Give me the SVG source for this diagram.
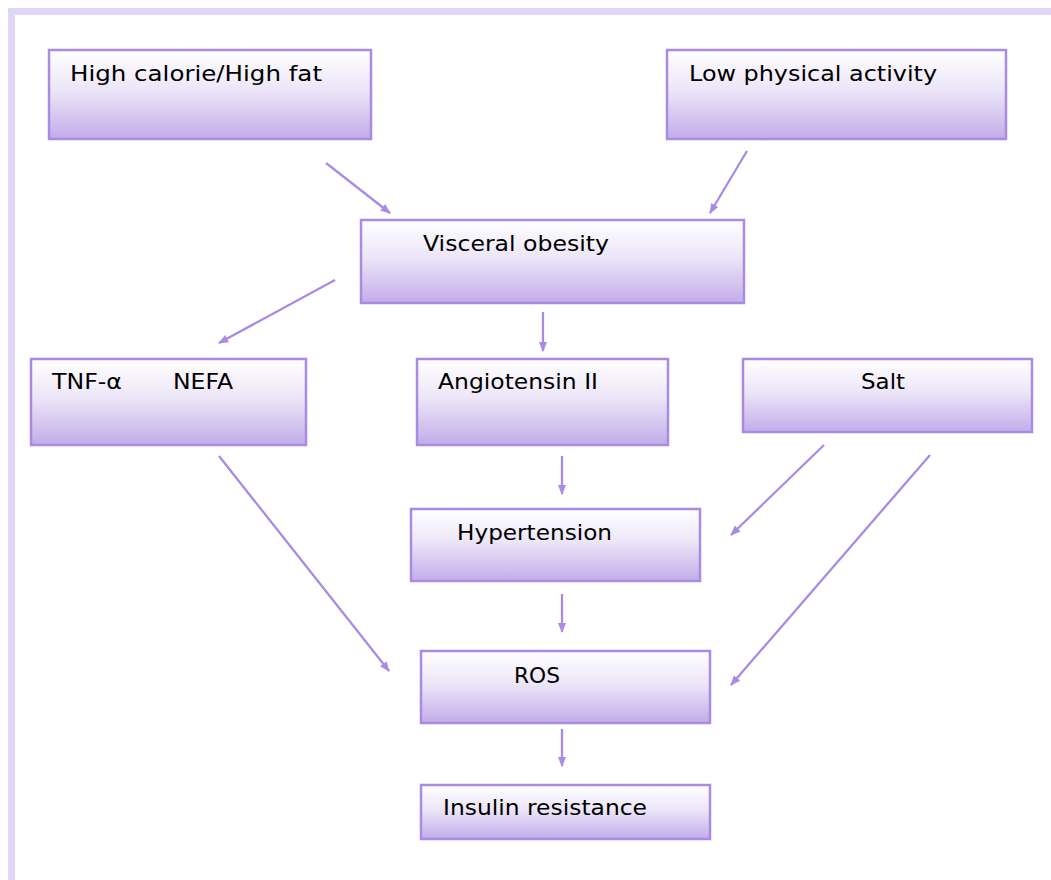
<svg xmlns="http://www.w3.org/2000/svg" width="1051" height="880" viewBox="0 0 1051 880">
<defs>
<linearGradient id="g" x1="0" y1="0" x2="0" y2="1">
<stop offset="0" stop-color="#ffffff"/>
<stop offset="0.45" stop-color="#ece6f8"/>
<stop offset="1" stop-color="#c2ace9"/>
</linearGradient>
<marker id="ah" viewBox="0 0 10 10" refX="9" refY="5" markerWidth="4.5" markerHeight="4.5" orient="auto" markerUnits="strokeWidth">
<path d="M0,1 L10,5 L0,9 z" fill="#a98be3"/>
</marker>
</defs>
<style>
.box{fill:url(#g);stroke:#a98be3;stroke-width:2.5}
.t{font-family:"DejaVu Sans","Liberation Sans",sans-serif;font-size:22px;fill:#000}
.c line{stroke:#a98be3;stroke-width:2.3;marker-end:url(#ah)}
</style>
<rect x="0" y="0" width="1051" height="880" fill="#fff"/>
<rect x="8" y="8" width="1043" height="7" fill="#e0d7f6"/>
<rect x="8" y="8" width="7" height="872" fill="#e0d7f6"/>
<g id="n1"><rect class="box" x="49" y="50" width="322" height="89"/><text class="t" x="70" y="81" textLength="252" lengthAdjust="spacingAndGlyphs">High calorie/High fat</text></g>
<g id="n2"><rect class="box" x="667" y="50" width="339" height="89"/><text class="t" x="689" y="81" textLength="248" lengthAdjust="spacingAndGlyphs">Low physical activity</text></g>
<g id="n3"><rect class="box" x="361" y="220" width="383" height="83"/><text class="t" x="423" y="251" textLength="186" lengthAdjust="spacingAndGlyphs">Visceral obesity</text></g>
<g id="n4"><rect class="box" x="31" y="359" width="275" height="86"/><text class="t" x="52" y="389" textLength="70" lengthAdjust="spacingAndGlyphs">TNF-α</text><text class="t" x="173" y="389" textLength="60" lengthAdjust="spacingAndGlyphs">NEFA</text></g>
<g id="n5"><rect class="box" x="417" y="359" width="251" height="86"/><text class="t" x="438" y="389" textLength="160" lengthAdjust="spacingAndGlyphs">Angiotensin II</text></g>
<g id="n6"><rect class="box" x="743" y="359" width="289" height="73"/><text class="t" x="861" y="389" textLength="44" lengthAdjust="spacingAndGlyphs">Salt</text></g>
<g id="n7"><rect class="box" x="411" y="509" width="289" height="72"/><text class="t" x="457" y="540" textLength="155" lengthAdjust="spacingAndGlyphs">Hypertension</text></g>
<g id="n8"><rect class="box" x="421" y="651" width="289" height="72"/><text class="t" x="514" y="683" textLength="46" lengthAdjust="spacingAndGlyphs">ROS</text></g>
<g id="n9"><rect class="box" x="421" y="785" width="289" height="54"/><text class="t" x="443" y="815" textLength="204" lengthAdjust="spacingAndGlyphs">Insulin resistance</text></g>
<g class="c" id="connectors">
<line x1="326" y1="163" x2="390" y2="213"/>
<line x1="747" y1="151" x2="710" y2="213"/>
<line x1="335" y1="280" x2="219" y2="343"/>
<line x1="543" y1="312" x2="543" y2="351"/>
<line x1="562" y1="456" x2="562" y2="494"/>
<line x1="824" y1="445" x2="731" y2="535"/>
<line x1="930" y1="455" x2="731" y2="685"/>
<line x1="219" y1="456" x2="389" y2="671"/>
<line x1="562" y1="594" x2="562" y2="632"/>
<line x1="562" y1="729" x2="562" y2="766"/>
</g>
</svg>
